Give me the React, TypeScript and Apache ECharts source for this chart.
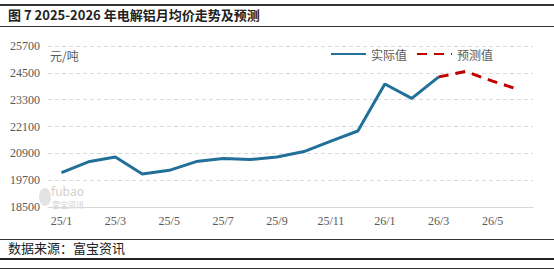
import React, { useEffect, useRef } from "react";
import * as echarts from "echarts";

const categories = [
  "25/1", "25/2", "25/3", "25/4", "25/5", "25/6", "25/7", "25/8", "25/9",
  "25/10", "25/11", "25/12", "26/1", "26/2", "26/3", "26/4", "26/5", "26/6",
];
const actualValues: (number | null)[] = [
  20040, 20520, 20740, 19980, 20140, 20530, 20670, 20620, 20740,
  20980, 21450, 21900, 24000, 23360, 24320, null, null, null,
];
const forecastValues: (number | null)[] = [
  null, null, null, null, null, null, null, null, null,
  null, null, null, null, null, 24320, 24560, 24130, 23740,
];
const yTicks = [18500, 19700, 20900, 22100, 23300, 24500, 25700];

const TITLE = "图 7 2025-2026 年电解铝月均价走势及预测";
const SOURCE = "数据来源：富宝资讯";
const UNIT = "元/吨";

const NUM_FONT = "'Liberation Serif', 'Times New Roman', serif";

export default function App() {
  const ref = useRef<HTMLDivElement>(null);
  useEffect(() => {
    document.body.style.margin = "0";
    if (!ref.current) return;
    const chart = echarts.init(ref.current, undefined, { renderer: "svg" });
    const W = 554;
    chart.setOption({
      animation: false,
      backgroundColor: "#ffffff",
      grid: { left: 48, right: 21, top: 46, bottom: 63, containLabel: false },
      legend: {
        left: 325,
        top: 43,
        itemWidth: 35,
        itemHeight: 12,
        itemGap: 9,
        itemStyle: { opacity: 0 },
        textStyle: { color: "#595959", fontSize: 12, fontFamily: "Noto Sans CJK SC" },
        data: ["实际值", "预测值"],
      },
      xAxis: {
        type: "category",
        data: categories,
        boundaryGap: true,
        axisLine: { lineStyle: { color: "#d9d9d9", width: 1 } },
        axisTick: { show: false },
        axisLabel: {
          interval: 1,
          color: "#595959",
          fontSize: 12,
          fontFamily: NUM_FONT,
          margin: 8,
        },
      },
      yAxis: {
        type: "value",
        min: yTicks[0],
        max: yTicks[yTicks.length - 1],
        interval: yTicks[1] - yTicks[0],
        axisLine: { show: false },
        axisTick: { show: false },
        splitLine: { lineStyle: { color: "#d9d9d9", type: [4, 3], width: 1 } },
        axisLabel: {
          color: "#595959",
          fontSize: 12,
          fontFamily: NUM_FONT,
          margin: 8,
          formatter: (v: number) => String(Math.round(v)),
        },
      },
      series: [
        {
          name: "实际值",
          type: "line",
          data: actualValues,
          symbol: "none",
          lineStyle: { color: "#22709a", width: 3 },
          itemStyle: { color: "#22709a" },
          z: 3,
        },
        {
          name: "预测值",
          type: "line",
          data: forecastValues,
          symbol: "none",
          lineStyle: { color: "#c00000", width: 3, type: [10, 7] },
          itemStyle: { color: "#c00000" },
          z: 4,
        },
      ],
      graphic: [
        { type: "rect", shape: { x: 0, y: 4, width: W, height: 2 }, style: { fill: "#333" } },
        { type: "rect", shape: { x: 0, y: 26, width: W, height: 1 }, style: { fill: "#333" } },
        {
          type: "text",
          left: 8,
          top: 8,
          style: { text: TITLE, fontSize: 13, fontWeight: 600, fill: "#222", fontFamily: "Noto Sans CJK SC" },
        },
        {
          type: "text",
          left: 50,
          top: 49,
          style: { text: UNIT, fontSize: 12, fill: "#595959", fontFamily: "Noto Sans CJK SC" },
        },
        { type: "rect", shape: { x: 0, y: 239, width: W, height: 1 }, style: { fill: "#333" } },
        {
          type: "text",
          left: 8,
          top: 241,
          style: { text: SOURCE, fontSize: 13, fill: "#222", fontFamily: "Noto Sans CJK SC" },
        },
        { type: "rect", shape: { x: 0, y: 258, width: W, height: 2 }, style: { fill: "#222" } },
        { type: "rect", shape: { x: 0, y: 268, width: W, height: 1 }, style: { fill: "#333" } },
        // watermark
        {
          type: "ellipse",
          shape: { cx: 45, cy: 197, rx: 6, ry: 9 },
          style: { fill: "#dcdcdc", opacity: 0.8 },
        },
        {
          type: "text",
          left: 51,
          top: 185,
          style: { text: "fubao", fontSize: 12, fill: "#d0d0d0", fontFamily: "Noto Sans" },
        },
        {
          type: "text",
          left: 52,
          top: 200,
          style: { text: "富宝资讯", fontSize: 8, fill: "#d0d0d0", fontFamily: "Noto Sans CJK SC" },
        },
      ],
    });
    return () => chart.dispose();
  }, []);
  return <div ref={ref} style={{ width: 554, height: 270 }} />;
}
